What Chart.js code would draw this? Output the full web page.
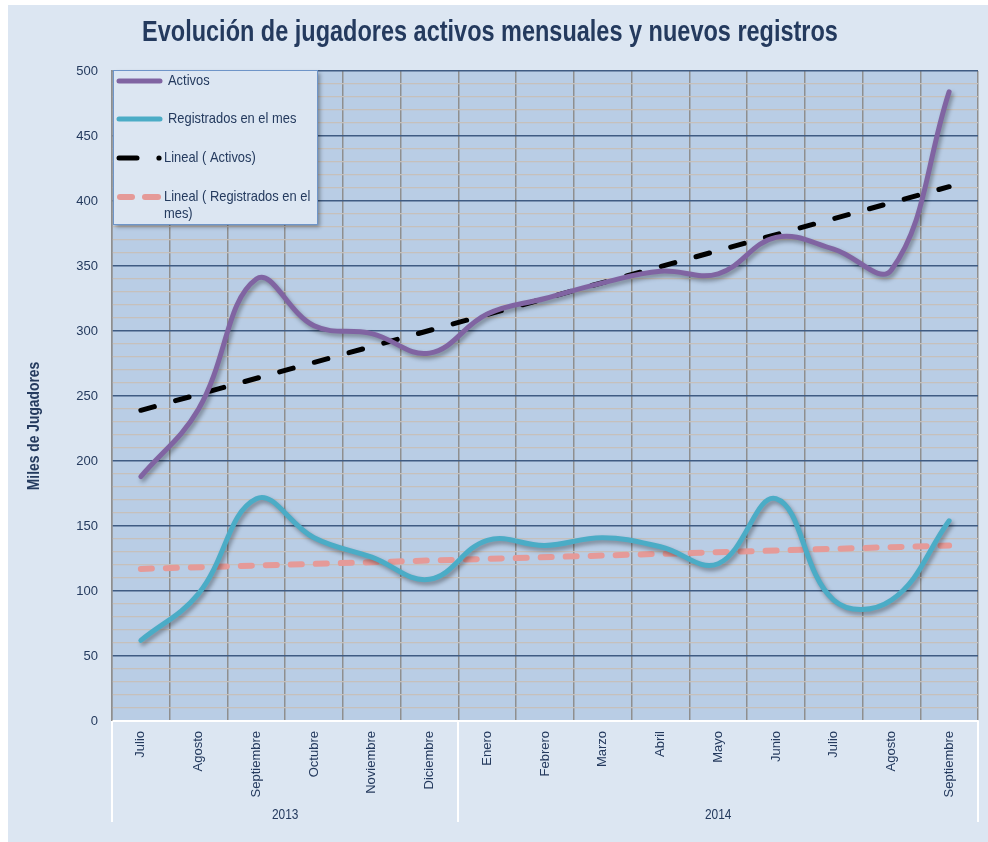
<!DOCTYPE html>
<html>
<head>
<meta charset="utf-8">
<title>Evolución de jugadores activos mensuales y nuevos registros</title>
<script src="https://cdn.jsdelivr.net/npm/chart.js@4/dist/chart.umd.min.js"></script>
<style>
  html, body { margin: 0; padding: 0; background: #ffffff; }
  #wrap { width: 988px; height: 842px; }
</style>
</head>
<body>
<div id="wrap"><canvas id="grafico" width="988" height="842"></canvas></div>
<script>
// meses (eje x) y años que los agrupan
const meses = ['Julio', 'Agosto', 'Septiembre', 'Octubre', 'Noviembre', 'Diciembre',
  'Enero', 'Febrero', 'Marzo', 'Abril', 'Mayo', 'Junio', 'Julio', 'Agosto', 'Septiembre'];
const anios = ['2013', '2014'];
const mesesPorAnio = [6, 9];

// miles de jugadores
const activos = [188, 240, 340, 304, 298, 283, 313, 325, 337, 346, 344, 372, 363, 347, 484];
const registrados = [62, 98, 171, 141, 126, 109, 139, 135, 141, 134, 121, 171, 93, 93, 154];

// lineas de tendencia: solo los extremos
const tendActivos = [239, null, null, null, null, null, null, null, null, null, null, null, null, null, 411];
const tendRegistrados = [117, null, null, null, null, null, null, null, null, null, null, null, null, null, 135];

const ejeY = { min: 0, max: 500, paso: 10, principal: 50 };

const FUENTE = "'Liberation Sans', Arial, sans-serif";
const AZUL_TEXTO = '#243a5e';

Chart.defaults.font.family = FUENTE;

// el original usa una letra estrecha: se comprime en horizontal
function textoAngosto(ctx, txt, x, y, sx) {
  ctx.save();
  ctx.translate(x, y);
  ctx.scale(sx, 1);
  ctx.fillText(txt, 0, 0);
  ctx.restore();
}

const decorado = {
  id: 'decorado',
  beforeDraw(chart) {
    const ctx = chart.ctx;
    const a = chart.chartArea;
    ctx.save();
    ctx.fillStyle = '#dce6f2';
    ctx.fillRect(8, 5, chart.width - 8, chart.height - 5);
    ctx.fillStyle = '#b9cde5';
    ctx.fillRect(a.left, a.top, a.right - a.left, a.bottom - a.top);
    ctx.restore();
  },
  beforeDatasetDraw(chart, args) {
    if (args.index < 2) {
      const ctx = chart.ctx;
      ctx.save();
      ctx.shadowColor = 'rgba(0,0,0,0.35)';
      ctx.shadowBlur = 4;
      ctx.shadowOffsetX = 2;
      ctx.shadowOffsetY = 3;
    }
  },
  afterDatasetDraw(chart, args) {
    if (args.index < 2) chart.ctx.restore();
  },
  afterDraw(chart) {
    const ctx = chart.ctx;
    const a = chart.chartArea;
    const x = chart.scales.x;
    const paso = x.getPixelForValue(1) - x.getPixelForValue(0);

    // separadores del eje de categorias y años
    ctx.save();
    ctx.strokeStyle = '#ffffff';
    ctx.lineWidth = 2;
    let inicio = 0;
    const bordes = [a.left];
    anios.forEach((anio, i) => {
      const fin = inicio + mesesPorAnio[i] - 1;
      const x0 = x.getPixelForValue(inicio) - paso / 2;
      const x1 = x.getPixelForValue(fin) + paso / 2;
      bordes.push(x1);
      ctx.fillStyle = AZUL_TEXTO;
      ctx.font = '14px ' + FUENTE;
      ctx.textAlign = 'center';
      ctx.textBaseline = 'middle';
      textoAngosto(ctx, anio, (x0 + x1) / 2, 815, 0.85);
      inicio = fin + 1;
    });
    bordes.forEach(b => {
      ctx.beginPath();
      ctx.moveTo(Math.round(b), a.bottom);
      ctx.lineTo(Math.round(b), 822);
      ctx.stroke();
    });

    // titulo
    ctx.fillStyle = AZUL_TEXTO;
    ctx.font = 'bold 29px ' + FUENTE;
    ctx.textAlign = 'center';
    ctx.textBaseline = 'middle';
    textoAngosto(ctx, 'Evolución de jugadores activos mensuales y nuevos registros', 490, 33, 0.81);

    // titulo del eje y
    ctx.save();
    ctx.translate(35, 426);
    ctx.rotate(-Math.PI / 2);
    ctx.font = 'bold 16px ' + FUENTE;
    textoAngosto(ctx, 'Miles de Jugadores', 0, 0, 0.865);
    ctx.restore();

    // leyenda
    ctx.save();
    ctx.shadowColor = 'rgba(0,0,0,0.35)';
    ctx.shadowBlur = 4;
    ctx.shadowOffsetX = 3;
    ctx.shadowOffsetY = 3;
    ctx.fillStyle = '#dce6f2';
    ctx.fillRect(113, 70, 204, 154);
    ctx.restore();
    ctx.strokeStyle = '#6f95c8';
    ctx.lineWidth = 1;
    ctx.strokeRect(113.5, 70.5, 204, 154);

    ctx.lineCap = 'round';
    const muestra = (y, color, ancho) => {
      ctx.beginPath();
      ctx.strokeStyle = color;
      ctx.lineWidth = ancho;
      ctx.moveTo(119, y);
      ctx.lineTo(160, y);
      ctx.stroke();
    };
    muestra(81, '#8064a2', 5);
    muestra(119, '#4bacc6', 5);
    ctx.beginPath();
    ctx.strokeStyle = '#000000';
    ctx.lineWidth = 5;
    ctx.moveTo(119, 158); ctx.lineTo(137, 158); ctx.stroke();
    ctx.beginPath();
    ctx.fillStyle = '#000000';
    ctx.arc(159, 158, 2.6, 0, Math.PI * 2);
    ctx.fill();
    ctx.strokeStyle = '#e59a98';
    ctx.lineWidth = 6;
    ctx.beginPath(); ctx.moveTo(120, 197); ctx.lineTo(132, 197); ctx.stroke();
    ctx.beginPath(); ctx.moveTo(145, 197); ctx.lineTo(158, 197); ctx.stroke();

    ctx.fillStyle = AZUL_TEXTO;
    ctx.font = '15px ' + FUENTE;
    ctx.textAlign = 'left';
    ctx.textBaseline = 'middle';
    textoAngosto(ctx, 'Activos', 168, 81, 0.86);
    textoAngosto(ctx, 'Registrados en el mes', 168, 119, 0.86);
    textoAngosto(ctx, 'Lineal ( Activos)', 164, 158, 0.86);
    textoAngosto(ctx, 'Lineal ( Registrados en el', 164, 197, 0.86);
    textoAngosto(ctx, 'mes)', 164, 214, 0.86);
    ctx.restore();
  }
};

new Chart(document.getElementById('grafico'), {
  type: 'line',
  data: {
    labels: meses,
    datasets: [
      {
        label: 'Activos',
        data: activos,
        borderColor: '#8064a2',
        borderWidth: 5,
        tension: 0.4,
        pointRadius: 0,
        borderCapStyle: 'round',
        fill: false
      },
      {
        label: 'Registrados en el mes',
        data: registrados,
        borderColor: '#4bacc6',
        borderWidth: 5,
        tension: 0.4,
        pointRadius: 0,
        borderCapStyle: 'round',
        fill: false
      },
      {
        label: 'Lineal ( Activos)',
        data: tendActivos,
        borderColor: '#000000',
        borderWidth: 5,
        borderDash: [14, 22],
        borderCapStyle: 'round',
        spanGaps: true,
        tension: 0,
        pointRadius: 0,
        fill: false
      },
      {
        label: 'Lineal ( Registrados en el mes)',
        data: tendRegistrados,
        borderColor: '#e59a98',
        borderWidth: 6,
        borderDash: [11, 14],
        borderCapStyle: 'round',
        spanGaps: true,
        tension: 0,
        pointRadius: 0,
        fill: false
      }
    ]
  },
  options: {
    responsive: false,
    animation: false,
    devicePixelRatio: 1,
    layout: { padding: { left: 8, top: 71, right: 10, bottom: 0 } },
    plugins: {
      legend: { display: false },
      title: { display: false },
      tooltip: { enabled: false }
    },
    scales: {
      x: {
        type: 'category',
        offset: true,
        grid: { offset: true, color: '#8f8f8f', lineWidth: 1.5, drawTicks: false },
        border: { display: true, color: '#ffffff', width: 2 },
        ticks: {
          autoSkip: false,
          minRotation: 90,
          maxRotation: 90,
          padding: 10,
          color: AZUL_TEXTO,
          font: { size: 13 }
        },
        afterFit(s) { s.height = 121; }
      },
      y: {
        min: ejeY.min,
        max: ejeY.max,
        grid: {
          drawTicks: false,
          color: c => (c.tick && c.tick.value % ejeY.principal === 0) ? '#3f5b82' : '#c6c0bb',
          lineWidth: c => (c.tick && c.tick.value % ejeY.principal === 0) ? 1.5 : 1.3
        },
        border: { display: true, color: '#8f8f8f', width: 1.5 },
        ticks: {
          stepSize: ejeY.paso,
          maxTicksLimit: 100,
          autoSkip: false,
          padding: 14,
          color: AZUL_TEXTO,
          font: { size: 13 },
          callback: v => (v % ejeY.principal === 0 ? v : '')
        },
        afterFit(s) { s.width = 104; }
      }
    }
  },
  plugins: [decorado]
});
</script>
</body>
</html>
